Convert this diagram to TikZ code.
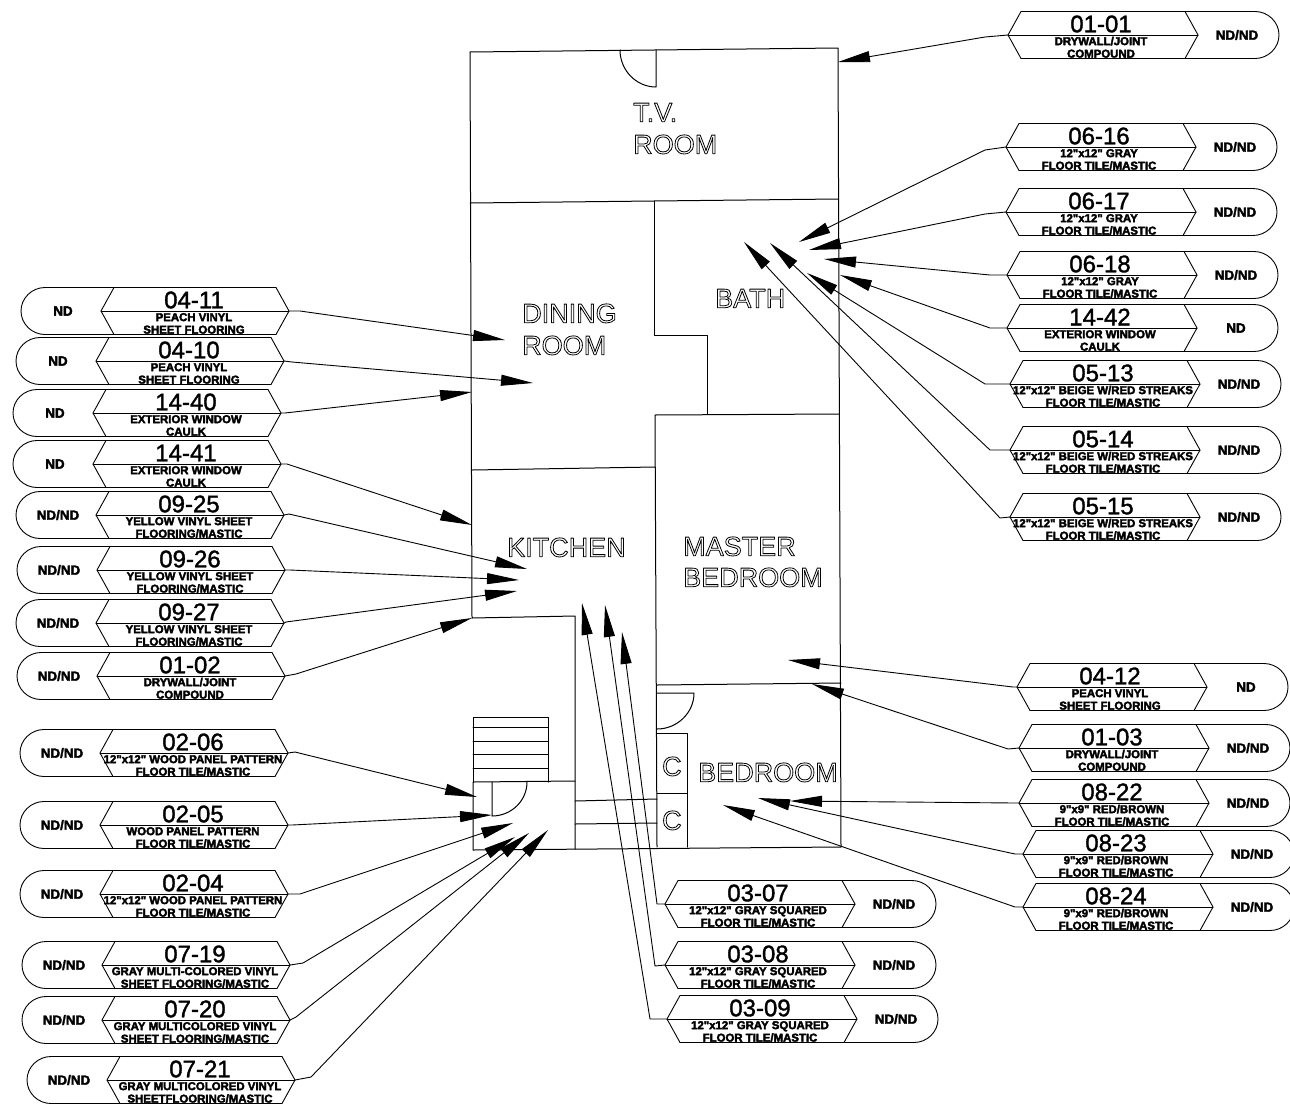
\documentclass[tikz,border=0pt]{standalone}
\usepackage{fontspec}
\setmainfont{Liberation Sans}
\usetikzlibrary{arrows.meta}
\tikzset{
	wall/.style={line width=1pt},
	taglineb/.style={line width=0.9pt},
	leaderline/.style={line width=0.9pt,->},
	tagid/.style={inner sep=0pt,font=\fontsize{24}{24}\selectfont},
	tagdesc/.style={inner sep=0pt,text height=8.2pt,text depth=0pt,font=\fontsize{11.4}{12}\selectfont\bfseries},
	tagres/.style={inner sep=0pt,font=\fontsize{13.4}{14}\selectfont\bfseries},
	roomlabel/.style={inner sep=0pt,anchor=west,text height=19.4pt,text depth=0pt,font=\fontsize{27}{27}\selectfont}
}
\newcommand{\hollowtext}[1]{\special{pdf:code q 1 Tr 0.8 w}#1\special{pdf:code Q}}
\newcommand{\heavytext}[1]{\special{pdf:code q 2 Tr 0.35 w}#1\special{pdf:code Q}}
\newcommand{\inch}{\textquotedbl}
% name, number, left tip x, middle y, two lines, result
\newcommand{\tagright}[7]{
	\coordinate (#1) at (#3,#4);
	\draw [taglineb] (#1)-- (#3+13,#4-23.5)-- (#3+177,#4-23.5)-- (#3+190,#4)-- (#3+177,#4+23.5)-- (#3+13,#4+23.5)-- cycle;
	\draw [taglineb] (#1)-- (#3+190,#4);
	\draw [taglineb] (#3+177,#4-23.5)-- (#3+247,#4-23.5) .. controls (#3+260,#4-23.5) and (#3+271,#4-13) .. (#3+271,#4) .. controls (#3+271,#4+13) and (#3+260,#4+23.5) .. (#3+247,#4+23.5)-- (#3+177,#4+23.5);
	\node[tagid] (#1id) at (#3+93,#4-11) {\heavytext{#2}};
	\node[tagdesc] (#1a) at (#3+93,#4+6) {\heavytext{#5}};
	\node[tagdesc] (#1b) at (#3+93,#4+18.5) {\heavytext{#6}};
	\node[tagres] (#1r) at (#3+229,#4) {\heavytext{#7}};
}
% name, number, right tip x, middle y, two lines, result
\newcommand{\tagleft}[7]{
	\coordinate (#1) at (#3,#4);
	\draw [taglineb] (#1)-- (#3-13,#4-23.5)-- (#3-175,#4-23.5)-- (#3-188,#4)-- (#3-175,#4+23.5)-- (#3-13,#4+23.5)-- cycle;
	\draw [taglineb] (#1)-- (#3-188,#4);
	\draw [taglineb] (#3-175,#4-23.5)-- (#3-244,#4-23.5) .. controls (#3-257,#4-23.5) and (#3-268,#4-13) .. (#3-268,#4) .. controls (#3-268,#4+13) and (#3-257,#4+23.5) .. (#3-244,#4+23.5)-- (#3-175,#4+23.5);
	\node[tagid] (#1id) at (#3-95,#4-11) {\heavytext{#2}};
	\node[tagdesc] (#1a) at (#3-95,#4+6) {\heavytext{#5}};
	\node[tagdesc] (#1b) at (#3-95,#4+18.5) {\heavytext{#6}};
	\node[tagres] (#1r) at (#3-226,#4) {\heavytext{#7}};
}
\newcommand{\tagleader}[3]{
	\coordinate (#1e) at (#2);
	\coordinate (#1h) at (#3);
	\draw [leaderline] (#1)-- (#1e)-- (#1h);
}
\begin{document}
\begin{tikzpicture}[line cap=round,line join=round,>={Triangle[length=32pt,width=11pt]},x=1pt,y=-1pt]
	\useasboundingbox (0,0) rectangle (1290,1106);
	\clip (0,0) rectangle (1290,1106);
	% house
	\draw [wall] (470,52)-- (838,48)-- (841,847)-- (473,850)-- (473,782)-- (575,781);
	\draw [wall] (470,52)-- (472,618)-- (575,616)-- (575,849);
	\draw [wall] (470,203)-- (838,199);
	\draw [wall] (654,201)-- (654,335)-- (707,335)-- (707,414);
	\draw [wall] (655,415)-- (839,414);
	\draw [wall] (655,415)-- (657,847);
	\draw [wall] (472,470)-- (655,467);
	\draw [wall] (657,685)-- (841,683);
	% doors
	\draw [wall] (656,50)-- (656,87) .. controls (636,87) and (620,70) .. (620,50);
	\draw [wall] (657,693)-- (694,693) .. controls (694,713) and (677,729) .. (657,729);
	\draw [wall] (492,782)-- (492,816) .. controls (511,816) and (527,801) .. (527,782);
	% closets and hall
	\draw [wall] (657,733)-- (687,733)-- (687,847);
	\draw [wall] (657,793)-- (687,793);
	\draw [wall] (575,801)-- (657,799);
	\draw [wall] (575,824)-- (657,823);
	% stairs
	\draw [wall] (473,782)-- (473,717)-- (548,717)-- (548,782);
	\draw [wall] (473,727)-- (548,727);
	\draw [wall] (473,741)-- (548,741);
	\draw [wall] (473,754)-- (548,754);
	\draw [wall] (473,768)-- (548,768);
	% rooms
	\node[roomlabel] (tvroom) at (633,112) {\hollowtext{T.V.}};
	\node[roomlabel] (tvroomb) at (633,144) {\hollowtext{ROOM}};
	\node[roomlabel] (dining) at (522,313) {\hollowtext{DINING}};
	\node[roomlabel] (diningb) at (522,345) {\hollowtext{ROOM}};
	\node[roomlabel] (bath) at (715,298) {\hollowtext{BATH}};
	\node[roomlabel] (kitchen) at (507,547) {\hollowtext{KITCHEN}};
	\node[roomlabel] (master) at (683,546) {\hollowtext{MASTER}};
	\node[roomlabel] (masterb) at (683,577) {\hollowtext{BEDROOM}};
	\node[roomlabel] (bedroom) at (698,772) {\hollowtext{BEDROOM}};
	\node[roomlabel] (closeta) at (662,766) {\hollowtext{C}};
	\node[roomlabel] (closetb) at (662,820) {\hollowtext{C}};
	% tags on the right
	\tagright{t0101}{01-01}{1008}{35}{DRYWALL/JOINT}{COMPOUND}{ND/ND}
	\tagright{t0616}{06-16}{1006}{147}{12\inch x12\inch{} GRAY}{FLOOR TILE/MASTIC}{ND/ND}
	\tagright{t0617}{06-17}{1006}{212}{12\inch x12\inch{} GRAY}{FLOOR TILE/MASTIC}{ND/ND}
	\tagright{t0618}{06-18}{1007}{275}{12\inch x12\inch{} GRAY}{FLOOR TILE/MASTIC}{ND/ND}
	\tagright{t1442}{14-42}{1007}{328}{EXTERIOR WINDOW}{CAULK}{ND}
	\tagright{t0513}{05-13}{1010}{384}{12\inch x12\inch{} BEIGE W/RED STREAKS}{FLOOR TILE/MASTIC}{ND/ND}
	\tagright{t0514}{05-14}{1010}{450}{12\inch x12\inch{} BEIGE W/RED STREAKS}{FLOOR TILE/MASTIC}{ND/ND}
	\tagright{t0515}{05-15}{1010}{517}{12\inch x12\inch{} BEIGE W/RED STREAKS}{FLOOR TILE/MASTIC}{ND/ND}
	\tagright{t0412}{04-12}{1017}{687}{PEACH VINYL}{SHEET FLOORING}{ND}
	\tagright{t0103}{01-03}{1019}{748}{DRYWALL/JOINT}{COMPOUND}{ND/ND}
	\tagright{t0822}{08-22}{1019}{803}{9\inch x9\inch{} RED/BROWN}{FLOOR TILE/MASTIC}{ND/ND}
	\tagright{t0823}{08-23}{1023}{854}{9\inch x9\inch{} RED/BROWN}{FLOOR TILE/MASTIC}{ND/ND}
	\tagright{t0824}{08-24}{1023}{907}{9\inch x9\inch{} RED/BROWN}{FLOOR TILE/MASTIC}{ND/ND}
	% tags below
	\tagright{t0307}{03-07}{665}{904}{12\inch x12\inch{} GRAY SQUARED}{FLOOR TILE/MASTIC}{ND/ND}
	\tagright{t0308}{03-08}{665}{965}{12\inch x12\inch{} GRAY SQUARED}{FLOOR TILE/MASTIC}{ND/ND}
	\tagright{t0309}{03-09}{667}{1019}{12\inch x12\inch{} GRAY SQUARED}{FLOOR TILE/MASTIC}{ND/ND}
	% tags on the left
	\tagleft{t0411}{04-11}{289}{311}{PEACH VINYL}{SHEET FLOORING}{ND}
	\tagleft{t0410}{04-10}{284}{361}{PEACH VINYL}{SHEET FLOORING}{ND}
	\tagleft{t1440}{14-40}{281}{413}{EXTERIOR WINDOW}{CAULK}{ND}
	\tagleft{t1441}{14-41}{281}{464}{EXTERIOR WINDOW}{CAULK}{ND}
	\tagleft{t0925}{09-25}{284}{515}{YELLOW VINYL SHEET}{FLOORING/MASTIC}{ND/ND}
	\tagleft{t0926}{09-26}{285}{570}{YELLOW VINYL SHEET}{FLOORING/MASTIC}{ND/ND}
	\tagleft{t0927}{09-27}{284}{623}{YELLOW VINYL SHEET}{FLOORING/MASTIC}{ND/ND}
	\tagleft{t0102}{01-02}{285}{676}{DRYWALL/JOINT}{COMPOUND}{ND/ND}
	\tagleft{t0206}{02-06}{288}{753}{12\inch x12\inch{} WOOD PANEL PATTERN}{FLOOR TILE/MASTIC}{ND/ND}
	\tagleft{t0205}{02-05}{288}{825}{WOOD PANEL PATTERN}{FLOOR TILE/MASTIC}{ND/ND}
	\tagleft{t0204}{02-04}{288}{894}{12\inch x12\inch{} WOOD PANEL PATTERN}{FLOOR TILE/MASTIC}{ND/ND}
	\tagleft{t0719}{07-19}{290}{965}{GRAY MULTI-COLORED VINYL}{SHEET FLOORING/MASTIC}{ND/ND}
	\tagleft{t0720}{07-20}{290}{1020}{GRAY MULTICOLORED VINYL}{SHEET FLOORING/MASTIC}{ND/ND}
	\tagleft{t0721}{07-21}{295}{1080}{GRAY MULTICOLORED VINYL}{SHEETFLOORING/MASTIC}{ND/ND}
	% leaders
	\tagleader{t0101}{985,37}{838,62}
	\tagleader{t0616}{985,150}{799,242}
	\tagleader{t0617}{985,214}{809,250}
	\tagleader{t0618}{990,275}{824,259}
	\tagleader{t1442}{990,328}{840,275}
	\tagleader{t0513}{985,384}{807,273}
	\tagleader{t0514}{990,450}{770,243}
	\tagleader{t0515}{1000,518}{744,242}
	\tagleader{t0412}{1013,687}{788,660}
	\tagleader{t0103}{1008,749}{812,684}
	\tagleader{t0822}{1015,803}{790,801}
	\tagleader{t0823}{1015,854}{758,798}
	\tagleader{t0824}{1015,907}{723,805}
	\tagleader{t0307}{657,904}{622,632}
	\tagleader{t0308}{655,966}{605,605}
	\tagleader{t0309}{650,1019}{582,603}
	\tagleader{t0411}{300,311}{505,340}
	\tagleader{t0410}{292,362}{533,383}
	\tagleader{t1440}{285,413}{472,392}
	\tagleader{t1441}{287,464}{472,525}
	\tagleader{t0925}{289,514}{527,569}
	\tagleader{t0926}{290,570}{519,580}
	\tagleader{t0927}{286,622}{517,591}
	\tagleader{t0102}{296,674}{472,618}
	\tagleader{t0206}{295,752}{477,797}
	\tagleader{t0205}{292,825}{492,815}
	\tagleader{t0204}{300,894}{513,823}
	\tagleader{t0719}{303,963}{515,837}
	\tagleader{t0720}{296,1017}{529,833}
	\tagleader{t0721}{311,1077}{548,830}
\end{tikzpicture}
\end{document}
